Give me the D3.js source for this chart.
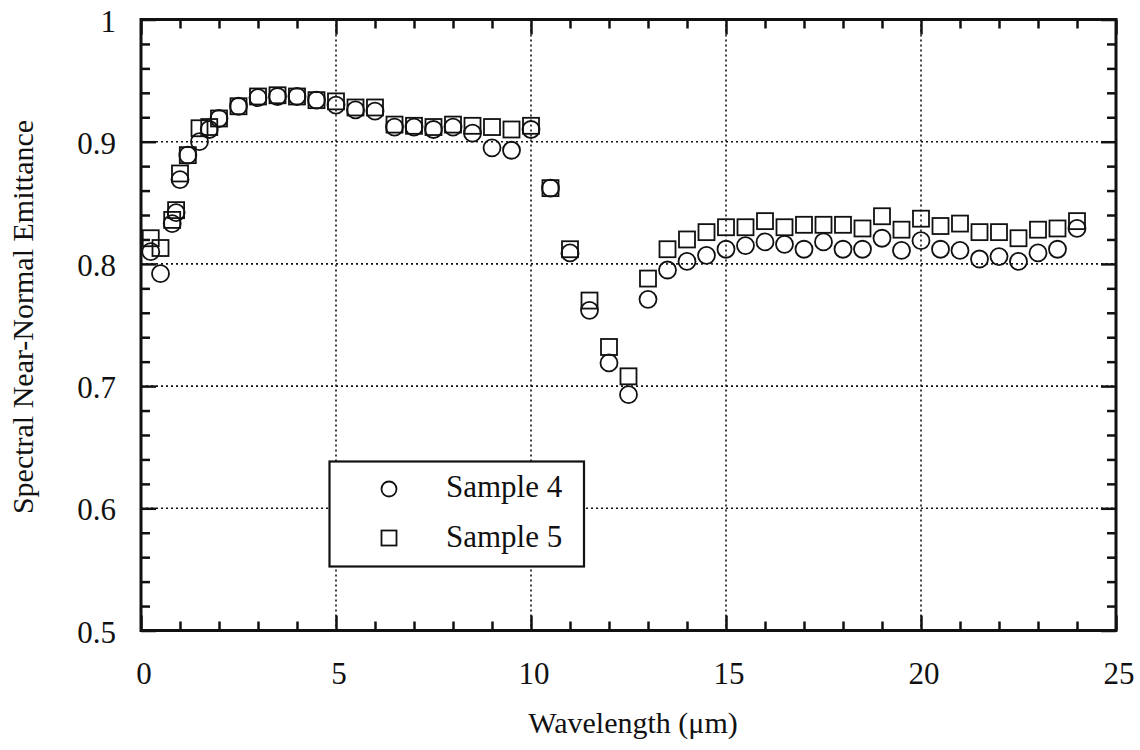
<!DOCTYPE html>
<html>
<head>
<meta charset="utf-8">
<script src="https://cdn.jsdelivr.net/npm/d3@7"></script>
<style>
  body { margin: 0; background: #fff; }
  svg { display: block; }
  text { font-family: "Liberation Serif", "Times New Roman", serif; fill: #111; }
</style>
</head>
<body>
<svg id="chart" width="1140" height="750"></svg>
<script>
// wavelength in micrometres
var wavelength = [0.25, 0.5, 0.8, 0.9, 1.0, 1.2, 1.5, 1.75, 2.0, 2.5, 3.0, 3.5, 4.0, 4.5, 5.0, 5.5, 6.0, 6.5, 7.0, 7.5,
    8.0, 8.5, 9.0, 9.5, 10.0, 10.5, 11.0, 11.5, 12.0, 12.5, 13.0, 13.5, 14.0, 14.5, 15.0, 15.5, 16.0, 16.5, 17.0, 17.5,
    18.0, 18.5, 19.0, 19.5, 20.0, 20.5, 21.0, 21.5, 22.0, 22.5, 23.0, 23.5, 24.0];

var sample4 = [0.810, 0.792, 0.833, 0.842, 0.869, 0.889, 0.900, 0.910, 0.919, 0.929, 0.936, 0.937, 0.937, 0.934, 0.930, 0.926, 0.925, 0.912, 0.912, 0.910,
    0.912, 0.907, 0.895, 0.893, 0.910, 0.862, 0.809, 0.762, 0.719, 0.693, 0.771, 0.795, 0.802, 0.807, 0.812, 0.815, 0.818, 0.816, 0.812, 0.818,
    0.812, 0.812, 0.821, 0.811, 0.819, 0.812, 0.811, 0.804, 0.806, 0.802, 0.809, 0.812, 0.829];

var sample5 = [0.821, 0.813, 0.836, 0.844, 0.874, 0.889, 0.911, 0.912, 0.919, 0.929, 0.937, 0.938, 0.937, 0.934, 0.933, 0.928, 0.928, 0.914, 0.913, 0.912,
    0.914, 0.913, 0.912, 0.910, 0.913, 0.862, 0.812, 0.770, 0.732, 0.708, 0.788, 0.812, 0.820, 0.826, 0.830, 0.830, 0.835, 0.830, 0.832, 0.832,
    0.832, 0.829, 0.839, 0.828, 0.837, 0.831, 0.833, 0.826, 0.826, 0.821, 0.828, 0.829, 0.835];

var xMajor = [0, 5, 10, 15, 20, 25];
var yMajor = [0.5, 0.6, 0.7, 0.8, 0.9, 1];
var xLabels = ["0", "5", "10", "15", "20", "25"];
var yLabels = ["0.5", "0.6", "0.7", "0.8", "0.9", "1"];

const pLeft = 141, pRight = 1116, pTop = 19.5, pBottom = 630.5;
const width = pRight - pLeft, height = pBottom - pTop;

const svg = d3.select("#chart");
const x = d3.scaleLinear().domain([0, 25]).range([pLeft, pRight]);
const y = d3.scaleLinear().domain([0.5, 1]).range([pBottom, pTop]);

const xMinor = d3.range(0, 25.001, 1).filter(v => v % 5 != 0);
const yMinor = d3.range(0.5, 1.0001, 0.02).map(v => +v.toFixed(2)).filter(v => Math.abs(v * 10 - Math.round(v * 10)) > 0.01);

// dotted grid at the major ticks
const grid = svg.append("g")
    .attr("stroke", "#111")
    .attr("stroke-width", 1.6)
    .attr("stroke-dasharray", "2,3");
grid.selectAll(".gx").data(xMajor.slice(1, -1)).join("line")
    .attr("x1", d => x(d)).attr("x2", d => x(d))
    .attr("y1", pTop).attr("y2", pBottom);
grid.selectAll(".gy").data(yMajor.slice(1, -1)).join("line")
    .attr("x1", pLeft).attr("x2", pRight)
    .attr("y1", d => y(d)).attr("y2", d => y(d));

// inward ticks on all four sides
function ticks(axis, tr) {
    const g = svg.append("g").attr("transform", tr).call(axis);
    g.select(".domain").remove();
    g.selectAll("line").attr("stroke", "#111").attr("stroke-width", 2.5);
    g.selectAll("text").remove();
    return g;
}
ticks(d3.axisBottom(x).tickValues(xMinor).tickSize(-9), `translate(0,${pBottom})`);
ticks(d3.axisBottom(x).tickValues(xMajor).tickSize(-15), `translate(0,${pBottom})`);
ticks(d3.axisTop(x).tickValues(xMinor).tickSize(-9), `translate(0,${pTop})`);
ticks(d3.axisTop(x).tickValues(xMajor).tickSize(-15), `translate(0,${pTop})`);
ticks(d3.axisLeft(y).tickValues(yMinor).tickSize(-9), `translate(${pLeft},0)`);
ticks(d3.axisLeft(y).tickValues(yMajor).tickSize(-15), `translate(${pLeft},0)`);
ticks(d3.axisRight(y).tickValues(yMinor).tickSize(-9), `translate(${pRight},0)`);
ticks(d3.axisRight(y).tickValues(yMajor).tickSize(-15), `translate(${pRight},0)`);

// frame
svg.append("rect")
    .attr("x", pLeft).attr("y", pTop)
    .attr("width", width).attr("height", height)
    .attr("fill", "none").attr("stroke", "#111").attr("stroke-width", 3);

// tick labels
svg.append("g").selectAll("text").data(xMajor).join("text")
    .attr("x", d => x(d) + 3)
    .attr("y", 684)
    .attr("text-anchor", "middle")
    .attr("font-size", 31)
    .text((d, i) => xLabels[i]);

svg.append("g").selectAll("text").data(yMajor).join("text")
    .attr("x", 116)
    .attr("y", d => y(d) + 12)
    .attr("text-anchor", "end")
    .attr("font-size", 31)
    .text((d, i) => yLabels[i]);

// axis titles
svg.append("text")
    .attr("x", 633).attr("y", 733)
    .attr("text-anchor", "middle")
    .attr("font-size", 30)
    .text("Wavelength (\u03bcm)");

svg.append("text")
    .attr("transform", "translate(33,317) rotate(-90)")
    .attr("text-anchor", "middle")
    .attr("font-size", 30)
    .text("Spectral Near-Normal Emittance");

// markers
const pts = svg.append("g").attr("fill", "none").attr("stroke", "#111").attr("stroke-width", 1.8);
pts.selectAll("circle").data(wavelength).join("circle")
    .attr("cx", d => x(d))
    .attr("cy", (d, i) => y(sample4[i]))
    .attr("r", 8.5);
pts.selectAll("rect").data(wavelength).join("rect")
    .attr("x", d => x(d) - 8)
    .attr("y", (d, i) => y(sample5[i]) - 8)
    .attr("width", 16).attr("height", 16);

// legend
const lg = svg.append("g");
lg.append("rect")
    .attr("x", 329.5).attr("y", 461.5)
    .attr("width", 254.5).attr("height", 105)
    .attr("fill", "#fff").attr("stroke", "#111").attr("stroke-width", 2.2);
lg.append("circle").attr("cx", 389).attr("cy", 489).attr("r", 7.5)
    .attr("fill", "none").attr("stroke", "#111").attr("stroke-width", 1.8);
lg.append("rect").attr("x", 381.5).attr("y", 530.5).attr("width", 15).attr("height", 15)
    .attr("fill", "none").attr("stroke", "#111").attr("stroke-width", 1.8);
lg.append("text").attr("x", 446).attr("y", 497).attr("font-size", 31).text("Sample 4");
lg.append("text").attr("x", 446).attr("y", 547).attr("font-size", 31).text("Sample 5");
</script>
</body>
</html>
